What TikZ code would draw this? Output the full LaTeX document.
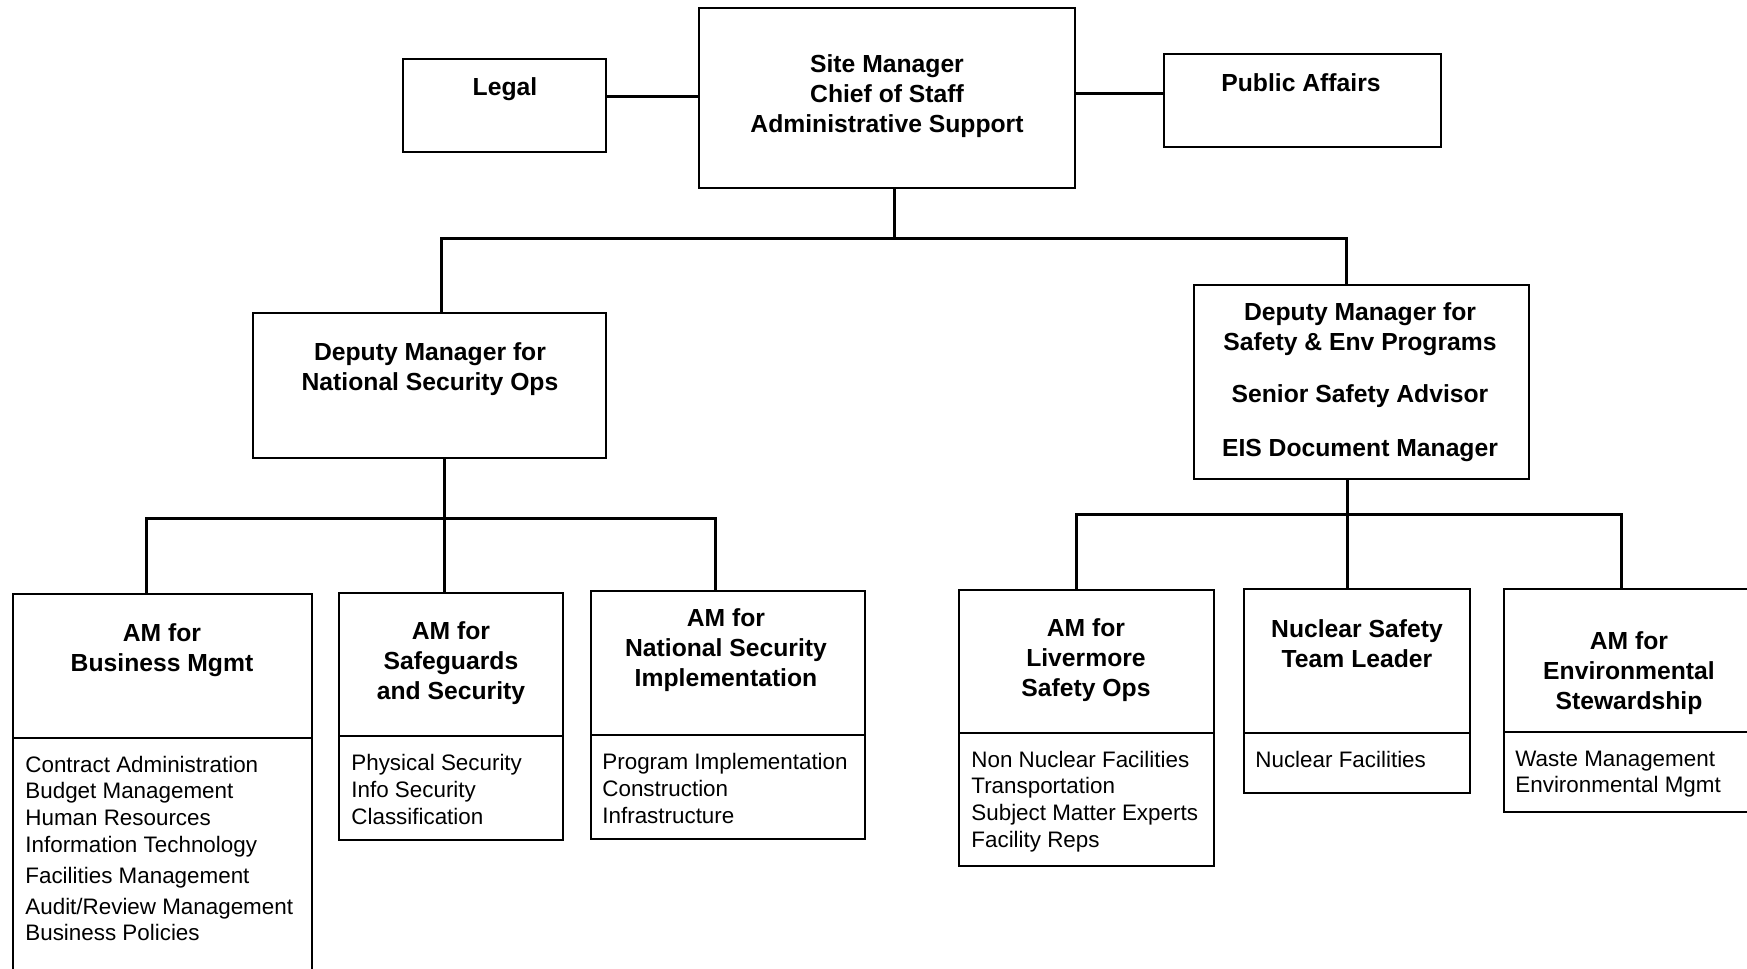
\documentclass[tikz,border=0pt]{standalone}
\usepackage{fontspec}
\setmainfont{Liberation Sans}
\newcommand\obox[5]{\node[boxst, minimum width={(#4-#2)*0.5pt}, minimum height={(#5-#3)*0.5pt}] (#1) at ({(#2+#4)/2},{(#3+#5)/2}) {};}
\tikzset{
  boxst/.style={draw, line width=1.1pt, inner sep=0pt, outer sep=0pt, rectangle},
  conn/.style={line width=1.5pt},
  ttl/.style={font=\fontsize{12.35}{15}\selectfont\bfseries, align=center, inner sep=0pt},
  lst/.style={font=\fontsize{11.2}{13.33}\selectfont, align=left, inner sep=0pt, anchor=west},
}
\begin{document}
\begin{tikzpicture}[x=0.5pt, y=-0.5pt]
\useasboundingbox (0,0) rectangle (1747,969);
\clip (0,0) rectangle (1747,969);
% boxes
\obox{legal}{403}{59}{606}{152}
\obox{sm}{699}{8}{1075}{188}
\obox{pa}{1164}{54}{1441}{147}
\obox{nso}{253}{313}{606}{458}
\obox{dse}{1194}{285}{1529}{479}
\obox{bush}{13}{594}{312}{738}
\obox{busb}{13}{738}{312}{990}
\obox{sgh}{339}{593}{563}{736}
\obox{sgb}{339}{736}{563}{840}
\obox{nsih}{591}{591}{865}{735}
\obox{nsib}{591}{735}{865}{839}
\obox{livh}{959}{590}{1214}{733}
\obox{livb}{959}{733}{1214}{866}
\obox{nuch}{1244}{589}{1470}{733}
\obox{nucb}{1244}{733}{1470}{793}
\obox{envh}{1504}{589}{1765}{732}
\obox{envb}{1504}{732}{1765}{812}
% titles
\node[ttl] (tlegal) at (505,89.5) {Legal};
\node[ttl] (tsm) at (887,96.5) {Site Manager\\Chief of Staff\\Administrative Support};
\node[ttl] (tpa) at (1301,83) {Public Affairs};
\node[ttl] (tnso) at (430,369.5) {Deputy Manager for\\National Security Ops};
\node[ttl] (tdse) at (1360,382.5) {Deputy Manager for\\Safety \& Env Programs\\[11pt]Senior Safety Advisor\\[12pt]EIS Document Manager};
\node[ttl] (tbus) at (162,650) {AM for\\Business Mgmt};
\node[ttl] (tsg) at (451,663.5) {AM for\\Safeguards\\and Security};
\node[ttl] (tnsi) at (726,650) {AM for\\National Security\\Implementation};
\node[ttl] (tliv) at (1086,660.5) {AM for\\Livermore\\Safety Ops};
\node[ttl] (tnuc) at (1357,644) {Nuclear Safety\\Team Leader};
\node[ttl] (tenv) at (1629,673.5) {AM for\\Environmental\\Stewardship};
% lists
\node[lst] (lbus) at (25,848.5) {Contract Administration\\Budget Management\\Human Resources\\Information Technology\\[2.2pt]Facilities Management\\[2.2pt]Audit/Review Management\\Business Policies};
\node[lst] (lsg) at (351,789.5) {Physical Security\\Info Security\\Classification};
\node[lst] (lnsi) at (602,788.5) {Program Implementation\\Construction\\Infrastructure};
\node[lst] (lliv) at (971,801.5) {Non Nuclear Facilities\\Transportation\\Subject Matter Experts\\Facility Reps};
\node[lst] (lnuc) at (1255,759.5) {Nuclear Facilities};
\node[lst] (lenv) at (1515,774) {Waste Management\\Environmental Mgmt};
% connector coordinates
\coordinate (cl) at (650,96);
\coordinate (cp) at (1120,93);
\coordinate (b1) at (894,238);
\coordinate (b1l) at (441,238);
\coordinate (b1r) at (1346,238);
\coordinate (b2) at (444,518);
\coordinate (b2l) at (146,518);
\coordinate (b2r) at (715,518);
\coordinate (b3) at (1347,514);
\coordinate (b3l) at (1076,514);
\coordinate (b3r) at (1621,514);
% connectors
\draw[conn] (legal.east |- cl) -- (sm.west |- cl);
\draw[conn] (sm.east |- cp) -- (pa.west |- cp);
\draw[conn] (b1 |- sm.south) -- (b1);
\draw[conn] (b1l |- nso.north) -- (b1l) -- (b1r) -- (b1r |- dse.north);
\draw[conn] (b2 |- nso.south) -- (b2) -- (b2 |- sgh.north);
\draw[conn] (b2l |- bush.north) -- (b2l) -- (b2r) -- (b2r |- nsih.north);
\draw[conn] (b3 |- dse.south) -- (b3) -- (b3 |- nuch.north);
\draw[conn] (b3l |- livh.north) -- (b3l) -- (b3r) -- (b3r |- envh.north);
\end{tikzpicture}
\end{document}
